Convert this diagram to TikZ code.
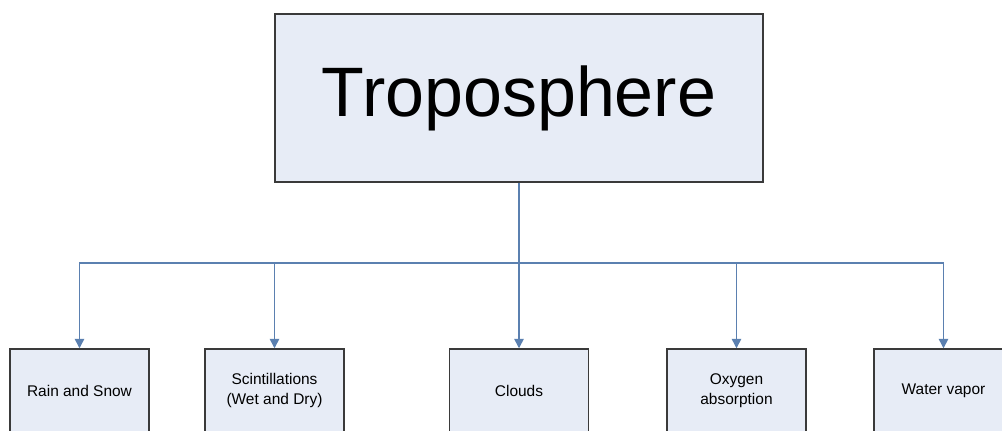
\documentclass[tikz,border=0pt]{standalone}
\usepackage{fontspec}
\setmainfont{Liberation Sans}
\usetikzlibrary{arrows.meta}
\definecolor{boxfill}{HTML}{E7ECF6}
\definecolor{boxline}{HTML}{3A3A3A}
\definecolor{conn}{HTML}{5B80B0}
\tikzset{
  topbox/.style={draw=boxline, line width=1.1pt, fill=boxfill, minimum width=366pt, minimum height=126pt, inner sep=0pt, font=\fontsize{52.5}{60}\selectfont},
  leafbox/.style={draw=boxline, line width=1.1pt, fill=boxfill, minimum width=104.25pt, minimum height=62.25pt, inner sep=0pt, align=center, font=\fontsize{11.6}{15}\selectfont},
  conn/.style={draw=conn, line width=1.1pt},
  arr/.style={conn, -{Triangle[width=7pt,length=7pt]}}
}
\begin{document}
\begin{tikzpicture}[x=0.75pt,y=-0.75pt]
\fill[white] (0,0) rectangle (1002,431);
\useasboundingbox (0,0) rectangle (1002,431);
\node[topbox] (top) at (519,98) {Troposphere};
\coordinate (j) at (519,263);
\node[leafbox] (rain) at (79.5,390.5) {Rain and Snow};
\node[leafbox] (scint) at (274.5,390.5) {Scintillations\\(Wet and Dry)};
\node[leafbox] (clouds) at (519,390.5) {Clouds};
\node[leafbox] (oxy) at (736.5,390.5) {Oxygen\\absorption};
\node[leafbox] (water) at (943.5,390.5) {Water vapor};
\draw[conn] (top.south) -- (j);
\draw[arr] (j) -| (rain.north);
\draw[arr] (j) -| (scint.north);
\draw[arr] (j) -- (clouds.north);
\draw[arr] (j) -| (oxy.north);
\draw[arr] (j) -| (water.north);
\end{tikzpicture}
\end{document}
